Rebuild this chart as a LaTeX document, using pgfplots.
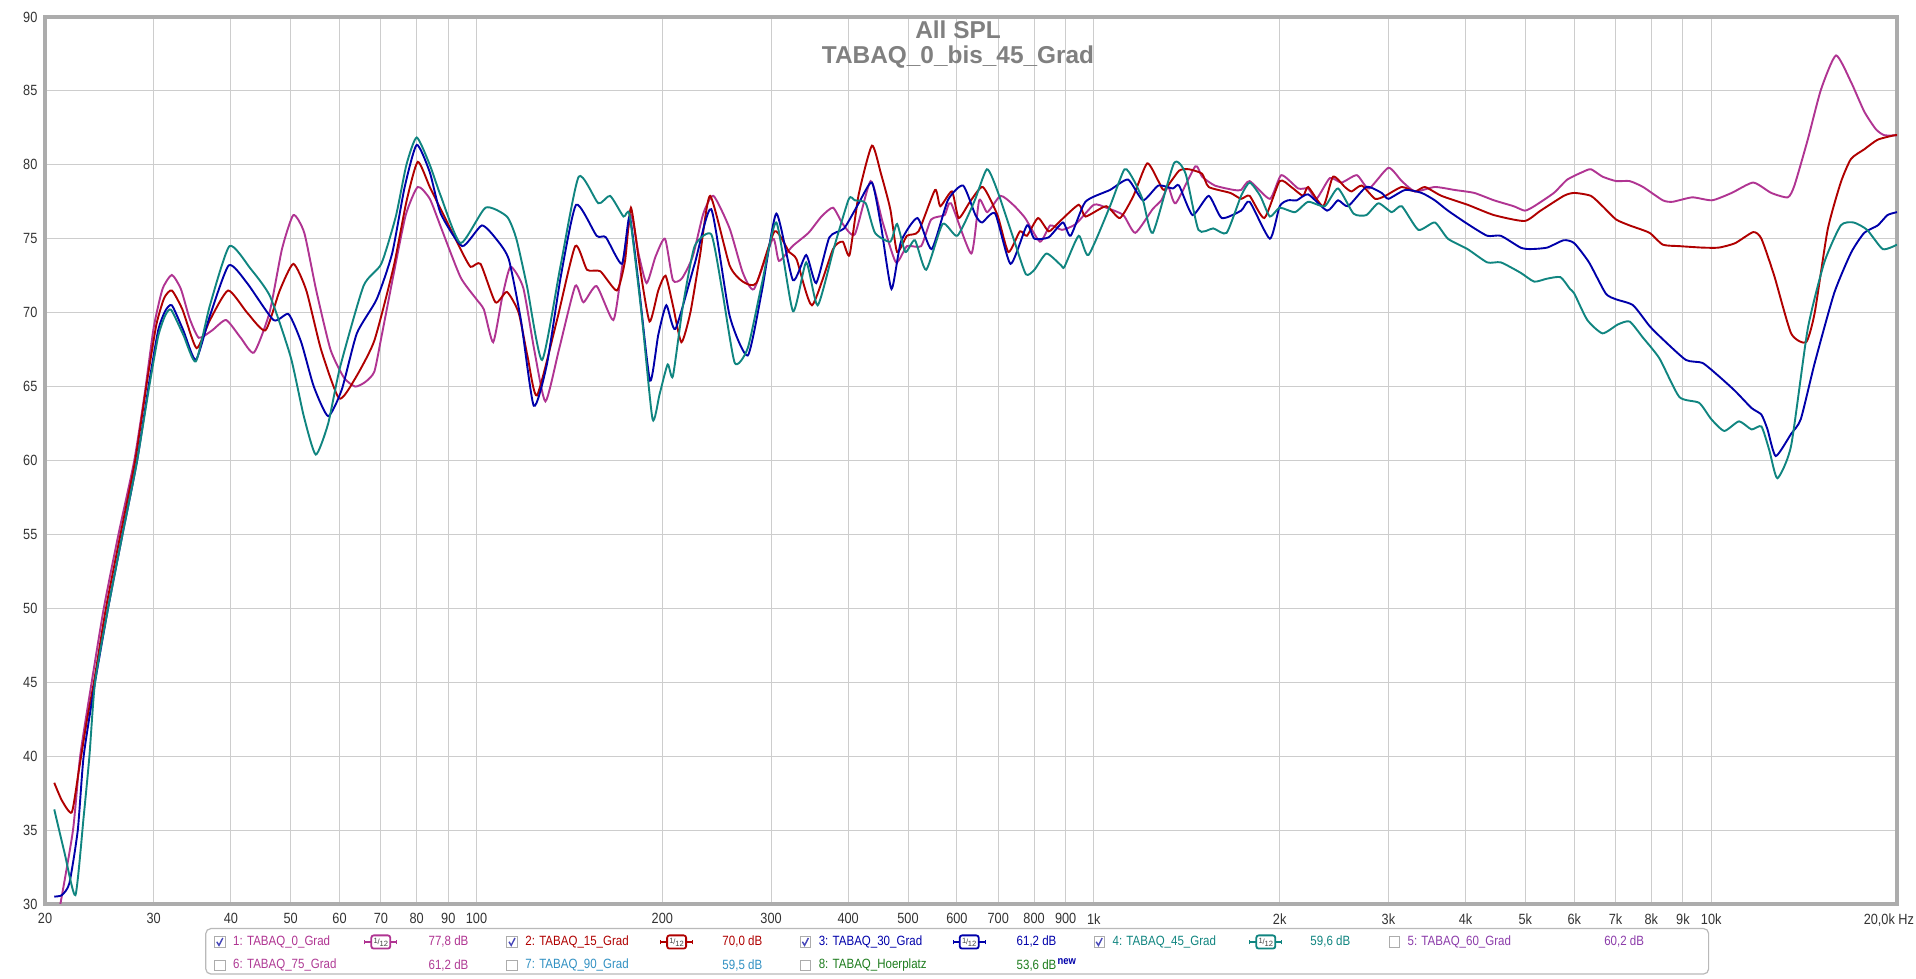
\documentclass[border=0pt]{standalone}
\usepackage{fontspec}
\setmainfont{Liberation Sans}
\newfontfamily\narrowfont[FakeStretch=0.86]{Liberation Sans}
\usepackage{pgfplots}
\pgfplotsset{compat=1.18}
\definecolor{cMag}{RGB}{176,52,146}
\definecolor{cRed}{RGB}{176,0,0}
\definecolor{cBlue}{RGB}{0,0,170}
\definecolor{cTeal}{RGB}{16,133,128}
\definecolor{cPurp}{RGB}{140,60,170}
\definecolor{cPink}{RGB}{176,60,150}
\definecolor{cSky}{RGB}{50,145,195}
\definecolor{cGreen}{RGB}{30,125,30}
\definecolor{gridc}{RGB}{205,205,205}
\definecolor{framec}{RGB}{172,172,172}
\definecolor{titlec}{RGB}{128,128,128}
\newcommand{\ticksize}{\narrowfont\fontsize{7.4}{8}\selectfont}
\newcommand{\legsize}{\narrowfont\fontsize{6.7}{7}\selectfont}
\newcommand{\chk}[3]{%
  \draw[gray!65, fill=white, line width=0.45pt] (#1-2.6pt,#2-2.6pt) rectangle (#1+2.6pt,#2+2.6pt);
  \ifnum#3=1 \draw[blue!45!gray, line width=0.7pt] (#1-1.5pt,#2+0.1pt)--(#1-0.4pt,#2-1.7pt)--(#1+1.5pt,#2+2.0pt);\fi}
\newcommand{\icon}[3]{%
  \draw[#3, line width=0.9pt] (#1-8pt,#2)--(#1+8pt,#2);
  \draw[#3, line width=0.6pt] (#1-8pt,#2-1.2pt)--(#1-8pt,#2+1.2pt) (#1+8pt,#2-1.2pt)--(#1+8pt,#2+1.2pt);
  \node[draw=#3, fill=white, rounded corners=1.2pt, line width=0.9pt, inner sep=0.6pt, minimum height=6.6pt, minimum width=9.5pt, text=black!75]
    at (#1,#2) {\fontsize{3.8}{4}\selectfont\raisebox{0.9pt}{1}\kern-0.1pt/\kern-0.1pt\raisebox{-0.7pt}{12}};}
\begin{document}
\begin{tikzpicture}
\fill[white] (0,0) rectangle (958pt,489.5pt);
\useasboundingbox (0,0) rectangle (958pt,489.5pt);
\begin{axis}[
  at={(22.5pt,37.5pt)}, anchor=south west,
  scale only axis, width=926pt, height=443.5pt,
  xmode=log, xmin=20, xmax=20000, ymin=30, ymax=90,
  xtick={20,30,40,50,60,70,80,90,100,200,300,400,500,600,700,800,900,1000,2000,3000,4000,5000,6000,7000,8000,9000,10000,20000},
  xticklabels={20,30,40,50,60,70,80,90,100,200,300,400,500,600,700,800,900,1k,2k,3k,4k,5k,6k,7k,8k,9k,10k,{\makebox[0pt][r]{20,0k Hz\hspace*{-8.5pt}}}},
  ytick={30,35,...,90},
  grid=major, major grid style={gridc, line width=0.5pt},
  major tick length=0pt,
  axis line style={framec, line width=1.6pt},
  tick label style={font=\ticksize, text=black!80},
  /pgf/number format/assume math mode=true,
  xticklabel style={yshift=-1.2pt},
  yticklabel style={xshift=-0.3pt},
]
% 1: TABAQ_0_Grad
\addplot[cMag, line width=0.95pt, smooth, tension=0.35] table {
f db
20.9 29.0
21.2 30.1
22.2 35.0
22.8 40.0
23.8 45.0
24.9 50.0
26.3 55.0
27.9 60.0
29.0 64.5
30.0 69.0
31.0 71.6
32.1 72.55
33.2 71.6
34.3 69.6
35.5 68.3
37.3 68.8
39.3 69.5
41.5 68.3
43.6 67.3
46.2 70.0
48.4 74.3
50.5 76.6
52.6 75.4
55.0 71.5
58.0 67.5
61.0 65.6
63.6 65.0
66.0 65.3
68.3 66.0
70.1 68.3
73.4 72.6
76.8 76.6
80.3 78.5
84.0 77.7
87.7 75.7
94.2 72.4
100 70.9
102.8 70.2
106.4 68.0
110 71.0
113.5 73.1
119 71.7
124 67.5
129.3 64.0
136 67.5
144.5 71.8
149 70.7
156.5 71.8
166.6 69.5
172 73.0
178 76.6
183 74.0
188.6 72.0
195 73.8
202 75.0
208 72.2
215 72.3
224 73.8
233 76.7
242 77.9
257 75.7
270 72.7
281.5 71.6
302 75.0
309 73.5
325 74.5
345 75.4
362 76.5
378 77.1
392 76.0
410 75.3
435 78.9
455 76.1
478 73.4
498 74.5
525 74.5
545 76.3
573 76.6
587 77.4
633 74.0
652 77.6
672 76.8
706 77.9
740 77.3
774 76.4
818 74.8
850 75.9
888 75.6
935 76.0
1000 77.3
1047 77.1
1116 76.6
1167 75.4
1245 77.0
1286 77.6
1320 78.5
1357 77.4
1460 79.9
1497 79.2
1570 78.6
1685 78.3
1732 78.3
1788 78.9
1928 77.7
2012 79.3
2143 78.4
2224 78.4
2294 77.7
2411 79.1
2519 78.8
2667 79.3
2790 78.4
3000 79.8
3153 78.9
3313 78.2
3567 78.5
3839 78.3
4131 78.1
4447 77.6
4786 77.2
4990 76.9
5167 77.2
5561 78.1
5845 79.0
6180 79.5
6385 79.7
6668 79.2
7015 78.9
7378 78.9
7757 78.5
8348 77.6
8660 77.5
9321 77.8
10032 77.6
10795 78.1
11697 78.8
12508 78.1
13305 77.8
13640 78.6
14334 81.7
15062 85.1
15929 87.4
16846 85.6
17700 83.6
18490 82.4
19083 82.0
20000 82.0
};
% 2: TABAQ_15_Grad
\addplot[cRed, line width=0.95pt, smooth, tension=0.35] table {
f db
20.7 38.2
21.3 37.0
22.1 36.2
22.7 39.1
23.4 42.5
24.0 45.0
25.1 50.0
26.5 55.0
28.0 60.0
29.3 65.5
30.3 69.2
31.2 71.0
32.1 71.5
33.4 70.2
35.2 67.6
37.0 69.5
39.6 71.5
42.5 70.0
45.5 68.8
48.0 71.5
50.5 73.3
53.0 71.5
56.0 67.5
59.9 64.2
63.5 65.5
68.3 68.1
73.4 73.1
77.0 77.5
80.3 80.2
84.0 78.5
87.5 77.0
94.2 74.3
97.8 73.1
101.5 73.3
107.3 70.7
112 71.4
117 70.0
121 67.0
125.3 64.4
135 69.5
144.5 74.5
151 72.9
158.7 72.8
168.8 71.5
174 73.5
177.9 77.1
184 73.0
190.7 69.4
197 71.5
202.4 72.5
208 70.5
214.7 68.0
222 70.0
230 73.8
239 77.9
257 73.2
270 72.1
284 72.0
304 75.5
321 74.1
330 73.6
349.5 70.5
378 74.3
392 74.8
402 73.9
416 78.0
437 81.3
452 79.4
468 77.0
480 74.1
498 75.2
520 75.5
553 78.3
564 77.2
589 78.2
604 76.4
630 77.5
661 78.5
698 76.6
727 74.1
759 75.5
779 75.2
812 76.4
845 75.5
877 76.1
945 77.3
969 76.5
1047 77.2
1102 76.4
1159 77.9
1220 80.1
1272 78.9
1300 78.3
1374 79.6
1425 79.7
1497 79.4
1535 78.5
1663 78.1
1732 77.7
1788 77.9
1889 76.4
2000 78.9
2088 78.5
2182 77.9
2224 78.5
2352 77.2
2440 79.2
2550 78.5
2615 78.2
2716 78.6
2855 77.7
2965 77.9
3153 78.5
3313 78.2
3438 78.5
3657 77.9
4030 77.3
4447 76.6
4984 76.2
5292 76.9
5770 77.9
6000 78.1
6385 77.9
6668 77.2
7015 76.3
7378 75.9
7946 75.4
8348 74.6
8878 74.5
9680 74.4
10289 74.4
10934 74.7
11697 75.45
12060 75.0
12649 72.5
13472 68.6
14247 68.0
14713 70.0
15438 75.6
16213 78.8
16846 80.4
17700 81.05
18610 81.7
19814 82.0
20000 82.0
};
% 3: TABAQ_30_Grad
\addplot[cBlue, line width=0.95pt, smooth, tension=0.35] table {
f db
20.7 30.5
21.3 30.6
21.9 31.4
22.6 35.0
23.1 40.0
24.1 45.0
25.3 50.0
26.7 55.0
28.2 60.0
29.5 65.3
30.5 68.8
31.3 70.1
32.1 70.5
33.5 68.8
35.1 66.8
37.0 69.8
39.7 73.2
42.5 72.0
46.9 69.5
49.6 69.9
52.0 68.0
54.5 65.0
57.5 63.0
60.5 64.8
64.0 68.6
68.9 70.9
73.0 74.0
76.5 78.5
80 81.35
84.0 79.5
87.5 76.7
94.8 74.5
102 75.9
108 74.9
112.8 73.6
118 69.5
123.8 63.7
130 66.5
137 72.5
145 77.3
156.5 75.2
162 75.1
172 73.3
177 76.5
183 72.0
191 65.4
197 68.5
203 70.5
210 68.9
225.6 73.3
240 77.0
257 69.8
275 67.1
290 71.5
306 76.7
325.5 72.2
342 73.9
355 72.0
373 75.1
394 75.7
416 77.4
437 78.8
452 75.9
470 71.6
487 74.8
518 76.4
546 74.3
580 77.6
614 78.6
643 76.6
659 76.1
692 76.7
733 73.3
779 75.9
801 75.0
845 75.1
891 76.1
917 75.2
969 77.5
1062 78.3
1136 79.0
1201 77.6
1272 78.6
1342 78.4
1374 78.6
1445 76.6
1535 77.9
1611 76.4
1732 76.9
1788 77.5
1928 75.0
2000 77.2
2063 77.6
2132 77.6
2224 78.0
2387 76.9
2486 77.6
2581 77.2
2763 78.5
2925 78.1
3000 77.7
3193 78.3
3395 78.1
3567 77.6
3746 76.9
4030 76.0
4337 75.2
4563 75.2
4911 74.4
5094 74.3
5422 74.4
5770 74.9
6000 74.7
6340 73.4
6747 71.3
7015 70.9
7473 70.5
7946 69.1
8348 68.2
9100 66.8
9680 66.6
10289 65.7
10934 64.7
11623 63.55
12060 63.1
12337 62.1
12721 60.3
13472 61.8
13968 62.8
14713 66.6
15815 71.3
16846 74.05
17700 75.4
18610 75.9
19303 76.6
20000 76.8
};
% 4: TABAQ_45_Grad
\addplot[cTeal, line width=0.95pt, smooth, tension=0.35] table {
f db
20.7 36.4
21.5 33.5
22.4 30.6
23.1 35.9
23.6 40.0
24.1 45.0
25.3 50.0
26.7 55.0
28.2 60.0
29.5 65.0
30.5 68.4
31.3 69.8
32.0 70.2
33.5 68.5
35.1 66.7
37.0 70.5
39.8 74.5
43.0 73.0
46.3 71.1
50.0 67.0
52.5 63.0
54.9 60.4
57.5 62.5
60.1 66.3
65.6 71.8
70.1 73.3
74.0 76.5
77.0 80.0
80 81.85
84 80.0
87.5 77.9
94.2 74.7
103.4 77.1
112 76.5
116 75.0
120.7 71.8
127.7 66.8
136.7 73.1
146.4 79.2
157.5 77.4
164.6 77.9
173 76.5
177 76.6
185 70.0
192.8 62.8
198 64.5
204 66.5
208 65.7
216 70.5
225.6 74.5
240 75.3
250 71.5
262 66.6
275 67.6
290 72.0
306 76.1
325.5 70.1
342 73.4
357 70.5
380 74.5
401 77.7
410 77.6
427 77.4
442 75.4
468 74.8
480 76.0
495 74.1
513 74.9
535 72.9
569 76.0
601 75.2
640 77.5
671 79.7
697 78.3
744 74.8
776 72.6
801 72.9
838 74.0
885 73.2
896 73.1
945 75.2
980 73.9
1062 77.2
1121 79.7
1159 79.0
1201 77.6
1246 75.4
1348 80.1
1408 79.4
1477 75.6
1561 75.7
1641 75.4
1732 77.9
1788 78.8
1860 77.9
1928 76.5
2000 77.1
2118 76.8
2224 77.5
2366 77.2
2486 78.4
2634 76.7
2763 76.6
2890 77.4
3037 76.8
3153 77.2
3355 75.6
3567 76.1
3746 75.0
4030 74.3
4337 73.4
4563 73.4
4911 72.7
5167 72.1
5422 72.3
5700 72.4
5906 71.6
6000 71.3
6300 69.5
6668 68.6
7059 69.2
7378 69.4
7757 68.3
8246 66.9
8878 64.3
9560 63.9
10000 62.8
10500 62.0
11094 62.65
11623 62.1
12060 62.3
12419 60.7
12800 58.8
13472 61.0
14334 68.9
15248 73.4
16213 75.9
17011 76.1
17889 75.6
18964 74.3
20000 74.6
};
\node[font=\bfseries\fontsize{12.2}{13}\selectfont, text=titlec] at (rel axis cs:0.493,1) [yshift=-6.3pt] {All SPL};
\node[font=\bfseries\fontsize{12.2}{13}\selectfont, text=titlec] at (rel axis cs:0.493,1) [yshift=-19.8pt] {TABAQ\_0\_bis\_45\_Grad};
\node[font=\narrowfont\fontsize{6.6}{7}\selectfont, text=black!80, inner sep=0pt] at (rel axis cs:0,1) [xshift=-5.6pt, yshift=6.0pt] {dB};
\end{axis}
% legend box
\draw[gray!55, rounded corners=2.5pt, line width=0.6pt] (102.9pt,2.5pt) rectangle (854.3pt,25.2pt);
\def\ya{18.5pt}
\def\yb{6.8pt}
% row 1
\chk{109.9pt}{\ya}{1}
\node[anchor=west, inner sep=0pt, font=\legsize, text=cMag] at (116.4pt,\ya) {1: TABAQ\_0\_Grad};
\icon{190.4pt}{\ya}{cMag}
\node[anchor=east, inner sep=0pt, font=\legsize, text=cMag] at (234.4pt,\ya) {77,8 dB};
\chk{256.0pt}{\ya}{1}
\node[anchor=west, inner sep=0pt, font=\legsize, text=cRed] at (262.5pt,\ya) {2: TABAQ\_15\_Grad};
\icon{338.3pt}{\ya}{cRed}
\node[anchor=east, inner sep=0pt, font=\legsize, text=cRed] at (381.3pt,\ya) {70,0 dB};
\chk{402.7pt}{\ya}{1}
\node[anchor=west, inner sep=0pt, font=\legsize, text=cBlue] at (409.2pt,\ya) {3: TABAQ\_30\_Grad};
\icon{484.6pt}{\ya}{cBlue}
\node[anchor=east, inner sep=0pt, font=\legsize, text=cBlue] at (528.4pt,\ya) {61,2 dB};
\chk{549.6pt}{\ya}{1}
\node[anchor=west, inner sep=0pt, font=\legsize, text=cTeal] at (556.1pt,\ya) {4: TABAQ\_45\_Grad};
\icon{632.9pt}{\ya}{cTeal}
\node[anchor=east, inner sep=0pt, font=\legsize, text=cTeal] at (675.3pt,\ya) {59,6 dB};
\chk{697.1pt}{\ya}{0}
\node[anchor=west, inner sep=0pt, font=\legsize, text=cPurp] at (703.6pt,\ya) {5: TABAQ\_60\_Grad};
\node[anchor=east, inner sep=0pt, font=\legsize, text=cPurp] at (822.2pt,\ya) {60,2 dB};
% row 2
\chk{109.9pt}{\yb}{0}
\node[anchor=west, inner sep=0pt, font=\legsize, text=cPink] at (116.4pt,\yb) {6: TABAQ\_75\_Grad};
\node[anchor=east, inner sep=0pt, font=\legsize, text=cPink] at (234.4pt,\yb) {61,2 dB};
\chk{256.0pt}{\yb}{0}
\node[anchor=west, inner sep=0pt, font=\legsize, text=cSky] at (262.5pt,\yb) {7: TABAQ\_90\_Grad};
\node[anchor=east, inner sep=0pt, font=\legsize, text=cSky] at (381.3pt,\yb) {59,5 dB};
\chk{402.7pt}{\yb}{0}
\node[anchor=west, inner sep=0pt, font=\legsize, text=cGreen] at (409.2pt,\yb) {8: TABAQ\_Hoerplatz};
\node[anchor=east, inner sep=0pt, font=\legsize, text=cGreen] at (528.4pt,\yb) {53,6 dB};
\node[anchor=south west, inner sep=0pt, font=\bfseries\narrowfont\fontsize{5.5}{6}\selectfont, text=cBlue] at (528.6pt,\yb) {new};
\end{tikzpicture}
\end{document}
